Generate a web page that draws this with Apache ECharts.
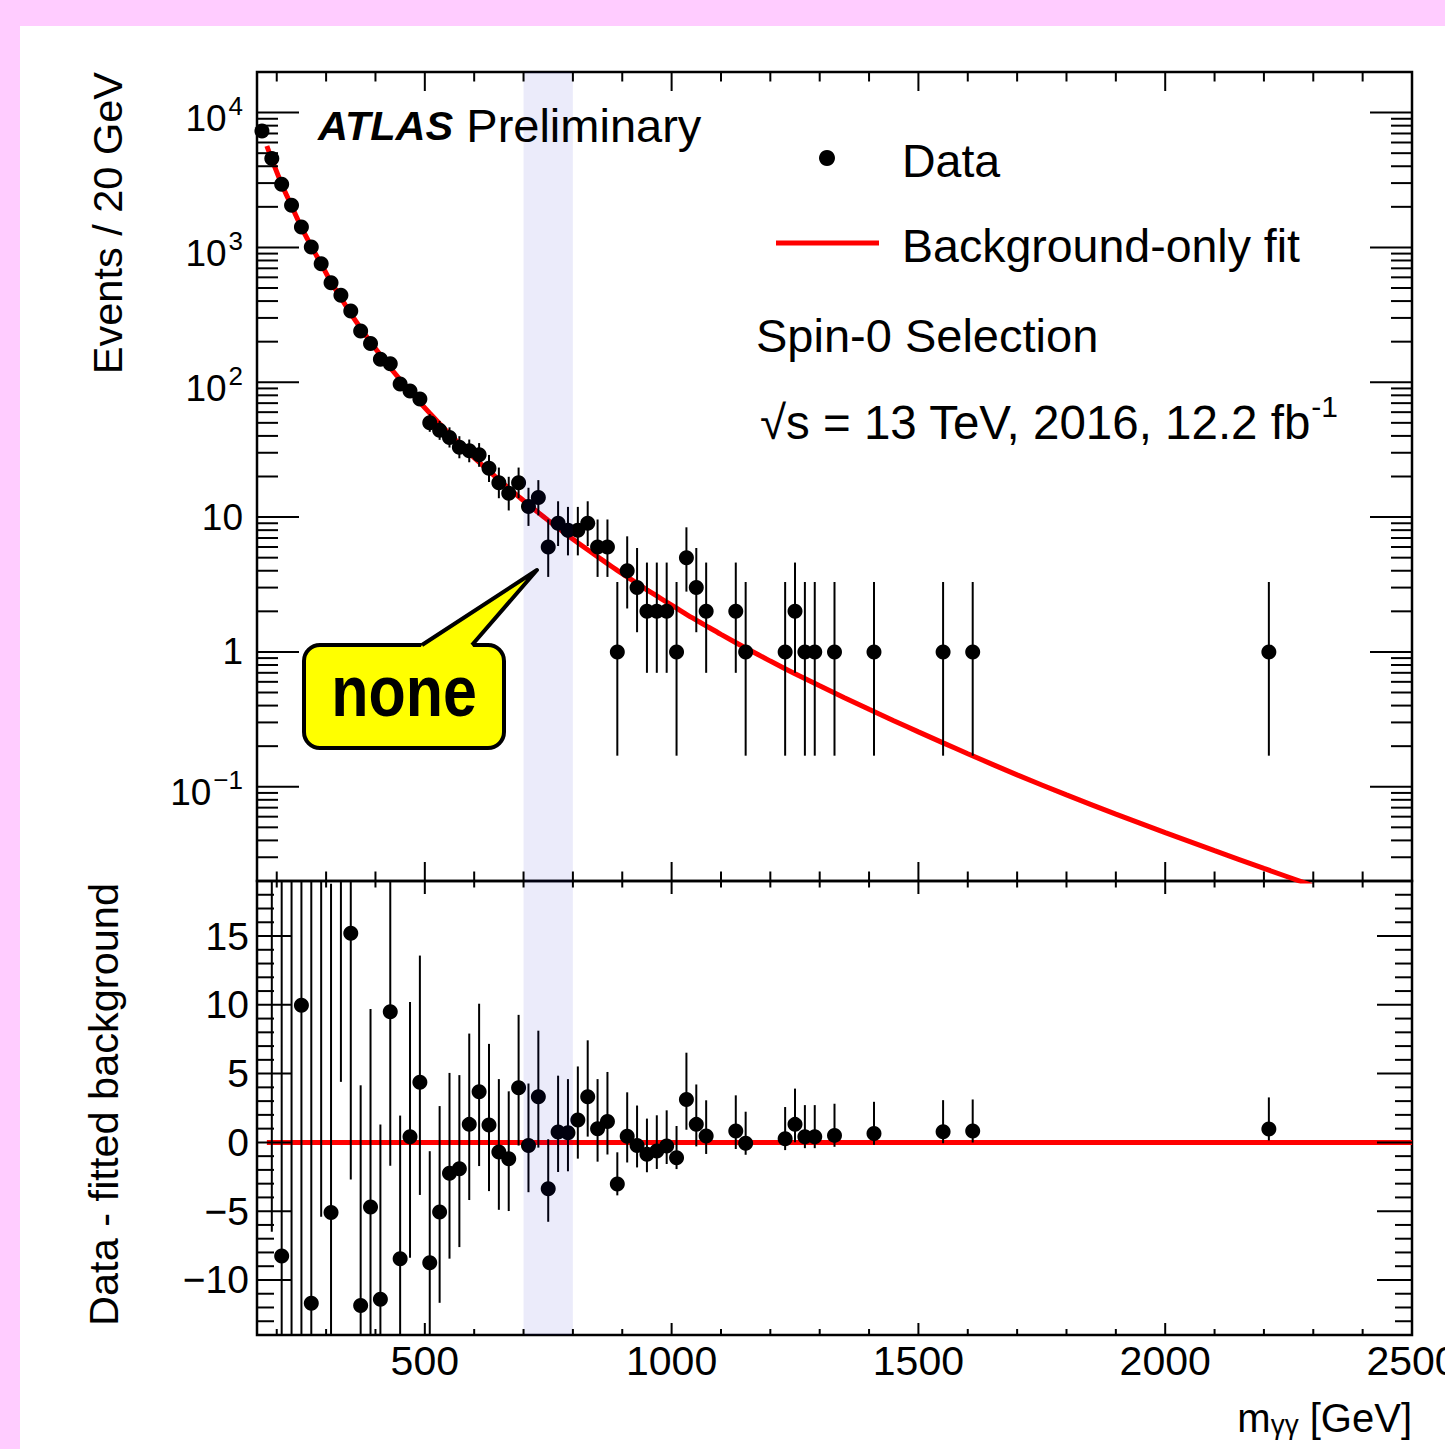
<!DOCTYPE html>
<html>
<head>
<meta charset="utf-8">
<script src="https://cdn.jsdelivr.net/npm/echarts@6/dist/echarts.min.js"></script>
<style>
html,body{margin:0;padding:0;background:#ffccff;width:1445px;height:1449px;overflow:hidden;}
#paper{position:absolute;left:20px;top:26px;width:1425px;height:1423px;background:#ffffff;}
#main{position:absolute;left:0;top:0;width:1445px;height:1449px;}
</style>
</head>
<body>
<div id="paper"></div>
<div id="main"></div>
<script>
// ---------------- data ----------------
const mass = [170,190,210,230,250,270,290,310,330,350,370,390,410,430,450,470,490,510,530,550,
  570,590,610,630,650,670,690,710,730,750,770,790,810,830,850,870,890,910,930,950,
  970,990,1010,1030,1050,1070,1130,1150,1230,1250,1270,1290,1330,1410,1550,1610,2210];
const events = [7305,4559,2938,2055,1417,1007,758,548,441,338,240,194,148,137,97,86,75,50,44,39,
  33,31,29,23,18,15,18,12,14,6,9,8,8,9,6,6,1,4,3,2,
  2,2,1,5,3,2,2,1,1,2,1,1,1,1,1,1,1];
const errLow = [85.0,67.0,53.7,44.8,37.1,31.2,27.0,22.9,20.5,17.9,15.0,13.4,11.7,11.2,9.3,8.8,8.2,7.1,6.6,6.2,
  5.7,5.5,5.4,4.8,4.2,3.8,4.2,3.4,3.7,2.4,2.9,2.8,2.8,2.9,2.4,2.4,0.83,1.9,1.6,1.3,
  1.3,1.3,0.83,2.2,1.6,1.3,1.3,0.83,0.83,1.3,0.83,0.83,0.83,0.83,0.83,0.83,0.83];
const errHigh = [86.0,68.0,54.7,45.8,38.1,32.2,28.0,23.9,21.5,18.9,16.0,14.4,12.7,12.2,10.4,9.8,9.2,8.1,7.7,7.3,
  6.8,6.6,6.4,5.9,5.3,4.9,5.3,4.5,4.8,3.6,4.1,3.9,3.9,4.1,3.6,3.6,2.3,3.2,2.9,2.6,
  2.6,2.6,2.3,3.4,2.9,2.6,2.6,2.3,2.3,2.6,2.3,2.3,2.3,2.3,2.3,2.3,2.3];
const residual = [null,60.5,-8.26,25,9.96,-11.7,21.6,-5.1,24.9,15.2,-11.85,-4.7,-11.4,9.5,-8.45,0.41,4.38,-8.74,-5.06,-2.25,
  -1.91,1.31,3.68,1.26,-0.7,-1.19,3.97,-0.22,3.32,-3.37,0.75,0.7,1.62,3.32,1.0,1.52,-3.02,0.44,-0.22,-0.87,
  -0.63,-0.27,-1.11,3.12,1.31,0.46,0.82,-0.07,0.27,1.31,0.41,0.41,0.51,0.65,0.77,0.82,0.97];

const fitMass = [180,190,210,230,250,270,290,310,330,350,370,390,410,430,450,470,490,510,530,550,
  570,590,610,630,650,670,690,710,730,750,770,790,810,830,850,870,890,910,930,950,
  970,990,1010,1030,1050,1070,1100,1150,1200,1250,1300,1350,1400,1450,1500,1550,1600,1700,1800,1900,
  2000,2100,2200,2300];
const fitEvents = [5650,4500,2946,2030,1407,1019,755,553,422,323,252,199,159,128,104.5,86,71,59,49.3,41.4,
  35,29.8,25.5,21.9,18.9,16.35,14.2,12.35,10.8,9.45,8.3,7.3,6.45,5.72,5.08,4.52,4.03,3.6,3.22,2.89,
  2.6,2.34,2.11,1.9,1.72,1.56,1.35,1.07,0.855,0.69,0.5615,0.458,0.3754,0.309,0.2553,0.2116,0.1758,0.1226,0.0870,0.0627,
  0.0457,0.0336,0.0248,0.0184];
const zeroLineMass = [180, 2500];
const bandRange = [700, 800];

// ---------------- ticks and tick labels ----------------
const xMajorTicks = [500,1000,1500,2000,2500];
const xTickLabels = ['500','1000','1500','2000','2500'];
const xMinorTicks = [200,300,400,600,700,800,900,1100,1200,1300,1400,1600,1700,1800,1900,2100,2200,2300,2400];
const logMajorTicks = [0.1,1,10,100,1000,10000];
const logTickLabels = ['10{sup|\u22121}','1','10','10{sup|2}','10{sup|3}','10{sup|4}'];
const logMinorTicks = [0.03,0.04,0.05,0.06,0.07,0.08,0.09,0.2,0.3,0.4,0.5,0.6,0.7,0.8,0.9,
  2,3,4,5,6,7,8,9,20,30,40,50,60,70,80,90,200,300,400,500,600,700,800,900,2000,3000,4000,5000,6000,7000,8000,9000];
const resMajorTicks = [-10,-5,0,5,10,15];
const resTickLabels = ['\u221210','\u22125','0','5','10','15'];
const resMinorTicks = [-13,-12,-11,-9,-8,-7,-6,-4,-3,-2,-1,1,2,3,4,6,7,8,9,11,12,13,14,16,17,18];

// ---------------- drawing ----------------
const FONT = '"Liberation Sans", Arial, Helvetica, sans-serif';
const chart = echarts.init(document.getElementById('main'), null, {renderer: 'svg', width: 1445, height: 1449});

const hidden = {axisLine:{show:false}, axisTick:{show:false}, axisLabel:{show:false}, splitLine:{show:false}};

function bandSeries(gi, yRef) {
  return {
    type:'custom', xAxisIndex:gi, yAxisIndex:gi, z:5, silent:true,
    data:[[bandRange[0], yRef, bandRange[1]]],
    encode:{x:0, y:1},
    renderItem:(params, api) => {
      const cs = params.coordSys;
      const a = api.coord([api.value(0), api.value(1)])[0];
      const b = api.coord([api.value(2), api.value(1)])[0];
      return {type:'rect', shape:{x:a, y:cs.y, width:b-a, height:cs.height},
        style:{fill:'rgba(0,0,190,0.08)'}};
    }
  };
}
function errSeries(gi, data) {
  return {
    type:'custom', xAxisIndex:gi, yAxisIndex:gi, z:3, silent:true,
    data:data, encode:{x:0, y:1},
    renderItem:(params, api) => {
      const cs = params.coordSys;
      const top = cs.y, bot = cs.y + cs.height;
      const a = api.coord([api.value(0), api.value(1)]);
      const b = api.coord([api.value(0), api.value(2)]);
      let y1 = Math.min(a[1], b[1]), y2 = Math.max(a[1], b[1]);
      if (y2 < top || y1 > bot) return {type:'group', children:[]};
      y1 = Math.max(y1, top); y2 = Math.min(y2, bot);
      return {type:'line', shape:{x1:a[0], y1:y1, x2:a[0], y2:y2}, style:{stroke:'#000', lineWidth:2}};
    }
  };
}
function xTickSeries(gi, yRef, lb, lt) {
  const data = xMajorTicks.map(v => [v, yRef, 1]).concat(xMinorTicks.map(v => [v, yRef, 0]));
  return {
    type:'custom', xAxisIndex:gi, yAxisIndex:gi, z:6, silent:true, data:data, encode:{x:0, y:1},
    renderItem:(params, api) => {
      const cs = params.coordSys;
      const x = api.coord([api.value(0), api.value(1)])[0];
      const maj = api.value(2) === 1;
      const b = cs.y + cs.height;
      const l1 = maj ? lb[0] : lb[1], l2 = maj ? lt[0] : lt[1];
      return {type:'group', children:[
        {type:'line', shape:{x1:x, y1:b, x2:x, y2:b - l1}, style:{stroke:'#000', lineWidth:2}},
        {type:'line', shape:{x1:x, y1:cs.y, x2:x, y2:cs.y + l2}, style:{stroke:'#000', lineWidth:2}}
      ]};
    }
  };
}
function yTickSeries(gi, xRef, majors, minors, len) {
  const data = majors.map(v => [xRef, v, 1]).concat(minors.map(v => [xRef, v, 0]));
  return {
    type:'custom', xAxisIndex:gi, yAxisIndex:gi, z:6, silent:true, data:data, encode:{x:0, y:1},
    renderItem:(params, api) => {
      const cs = params.coordSys;
      const y = api.coord([api.value(0), api.value(1)])[1];
      const l = api.value(2) === 1 ? len[0] : len[1];
      const r = cs.x + cs.width;
      return {type:'group', children:[
        {type:'line', shape:{x1:cs.x, y1:y, x2:cs.x + l, y2:y}, style:{stroke:'#000', lineWidth:2}},
        {type:'line', shape:{x1:r, y1:y, x2:r - l, y2:y}, style:{stroke:'#000', lineWidth:2}}
      ]};
    }
  };
}
function yLabelSeries(gi, xRef, ticks, labels, gap, size) {
  return {
    type:'custom', xAxisIndex:gi, yAxisIndex:gi, z:6, silent:true,
    data:ticks.map(v => [xRef, v]), encode:{x:0, y:1},
    renderItem:(params, api) => {
      const cs = params.coordSys;
      const y = api.coord([api.value(0), api.value(1)])[1];
      let t = labels[params.dataIndex];
      if (t.indexOf('{sup|') >= 0) t = t.replace(/^([^{]+)\{sup/, '{b|$1}{sup');
      return {type:'text', x:cs.x - gap, y:y, style:{
        text:t, fill:'#000', font:size + 'px ' + FONT, align:'right', verticalAlign:'middle',
        rich:{
          b:{font:size + 'px ' + FONT, verticalAlign:'bottom', lineHeight:size, fill:'#000'},
          sup:{font:'26px ' + FONT, verticalAlign:'top', lineHeight:49, padding:[5,0,0,2], fill:'#000'}
        }}};
    }
  };
}
function xLabelSeries(gi, yRef) {
  return {
    type:'custom', xAxisIndex:gi, yAxisIndex:gi, z:6, silent:true,
    data:xMajorTicks.map(v => [v, yRef]), encode:{x:0, y:1},
    renderItem:(params, api) => {
      const cs = params.coordSys;
      const x = api.coord([api.value(0), api.value(1)])[0];
      return {type:'text', x:x, y:cs.y + cs.height + 26, style:{
        text:xTickLabels[params.dataIndex], fill:'#000', font:'41px ' + FONT, align:'center', verticalAlign:'middle'}};
    }
  };
}

const upperErr = mass.map((m, i) => [m, events[i] - errLow[i], events[i] + errHigh[i]]);
const lowerIdx = mass.map((m, i) => i).filter(i => residual[i] !== null);
const lowerErr = lowerIdx.map(i => [mass[i], residual[i] - errLow[i], residual[i] + errHigh[i]]);

const option = {
  animation:false,
  backgroundColor:'transparent',
  grid:[
    {left:257, top:72, width:1155, height:809, show:true, borderColor:'#000', borderWidth:2.5, backgroundColor:'rgba(0,0,0,0)'},
    {left:257, top:881, width:1155, height:454, show:true, borderColor:'#000', borderWidth:2.5, backgroundColor:'rgba(0,0,0,0)'}
  ],
  xAxis:[
    Object.assign({gridIndex:0, type:'value', min:160, max:2500}, hidden),
    Object.assign({gridIndex:1, type:'value', min:160, max:2500}, hidden)
  ],
  yAxis:[
    Object.assign({gridIndex:0, type:'log', logBase:10, min:0.02, max:20000}, hidden),
    Object.assign({gridIndex:1, type:'value', min:-14, max:19}, hidden)
  ],
  series:[
    {type:'line', name:'Background-only fit', xAxisIndex:0, yAxisIndex:0, z:2, silent:true,
      data:fitMass.map((m, i) => [m, fitEvents[i]]), showSymbol:false, symbol:'none',
      smooth:0.3, clip:true, lineStyle:{color:'#ff0000', width:5}},
    {type:'line', xAxisIndex:1, yAxisIndex:1, z:2, silent:true,
      data:zeroLineMass.map(m => [m, 0]), showSymbol:false, symbol:'none', clip:true,
      lineStyle:{color:'#ff0000', width:5}},
    errSeries(0, upperErr),
    errSeries(1, lowerErr),
    {type:'scatter', name:'Data', xAxisIndex:0, yAxisIndex:0, z:4, silent:true, clip:true,
      symbol:'circle', symbolSize:15, itemStyle:{color:'#000', opacity:1},
      data:mass.map((m, i) => [m, events[i]])},
    {type:'scatter', xAxisIndex:1, yAxisIndex:1, z:4, silent:true, clip:true,
      symbol:'circle', symbolSize:15, itemStyle:{color:'#000', opacity:1},
      data:lowerIdx.map(i => [mass[i], residual[i]])},
    bandSeries(0, 1),
    bandSeries(1, 0),
    xTickSeries(0, 1, [19, 9.5], [19, 9.5]),
    xTickSeries(1, 0, [12, 6], [13, 6.5]),
    yTickSeries(0, 1000, logMajorTicks, logMinorTicks, [42, 21]),
    yTickSeries(1, 1000, resMajorTicks, resMinorTicks, [35, 17]),
    yLabelSeries(0, 1000, logMajorTicks, logTickLabels, 14, 37),
    yLabelSeries(1, 1000, resMajorTicks, resTickLabels, 8, 39),
    xLabelSeries(1, 0)
  ],
  graphic:[
    // axis titles
    {type:'text', x:107, y:72, rotation:Math.PI/2, z:20, style:{text:'Events / 20 GeV', font:'41.5px ' + FONT, fill:'#000', align:'right', verticalAlign:'middle'}},
    {type:'text', x:103, y:883, rotation:Math.PI/2, z:20, style:{text:'Data - fitted background', font:'41.5px ' + FONT, fill:'#000', align:'right', verticalAlign:'middle'}},
    {type:'text', x:1412, y:1398, z:20, style:{text:'{n|m}{s|\u03b3\u03b3}{n| [GeV]}', fill:'#000', align:'right', verticalAlign:'top',
      rich:{n:{font:'40px ' + FONT, verticalAlign:'bottom', lineHeight:40, fill:'#000'},
            s:{font:'28px ' + FONT, verticalAlign:'bottom', fill:'#000'}}}},
    // ATLAS label
    {type:'text', x:318, y:125, z:20, style:{text:'{a|ATLAS} Preliminary', font:'47px ' + FONT, fill:'#000', align:'left', verticalAlign:'middle',
      rich:{a:{font:'italic bold 41.5px ' + FONT, fill:'#000'}}}},
    // legend
    {type:'circle', z:20, shape:{cx:827, cy:158, r:8}, style:{fill:'#000'}},
    {type:'text', x:902, y:161, z:20, style:{text:'Data', font:'46.5px ' + FONT, fill:'#000', align:'left', verticalAlign:'middle'}},
    {type:'line', z:20, shape:{x1:776, y1:243, x2:879, y2:243}, style:{stroke:'#ff0000', lineWidth:5}},
    {type:'text', x:902, y:245.5, z:20, style:{text:'Background-only fit', font:'46.5px ' + FONT, fill:'#000', align:'left', verticalAlign:'middle'}},
    {type:'text', x:756, y:335, z:20, style:{text:'Spin-0 Selection', font:'47px ' + FONT, fill:'#000', align:'left', verticalAlign:'middle'}},
    {type:'text', x:760, y:391, z:20, style:{text:'{n|\u221as = 13 TeV, 2016, 12.2 fb}{s|-1}', fill:'#000', align:'left', verticalAlign:'top',
      rich:{n:{font:'47.5px ' + FONT, verticalAlign:'bottom', lineHeight:47, fill:'#000'},
            s:{font:'30px ' + FONT, verticalAlign:'top', lineHeight:55, fill:'#000'}}}},
    // callout box
    {type:'rect', z:30, shape:{x:304, y:645, width:200, height:103, r:16},
      style:{fill:'#ffff00', stroke:'#000', lineWidth:4}},
    {type:'polygon', z:31, shape:{points:[[419,650],[422,645],[537,570],[472,645],[475,650]]},
      style:{fill:'#ffff00'}},
    {type:'polyline', z:32, shape:{points:[[422,645],[537,570],[472,645]]},
      style:{stroke:'#000', lineWidth:4, lineJoin:'round', fill:null}},
    {type:'text', x:404, y:691, z:33, scaleY:1.17, style:{text:'none', font:'bold 61px ' + FONT, fill:'#000', align:'center', verticalAlign:'middle'}}
  ]
};
chart.setOption(option);
</script>
</body>
</html>
